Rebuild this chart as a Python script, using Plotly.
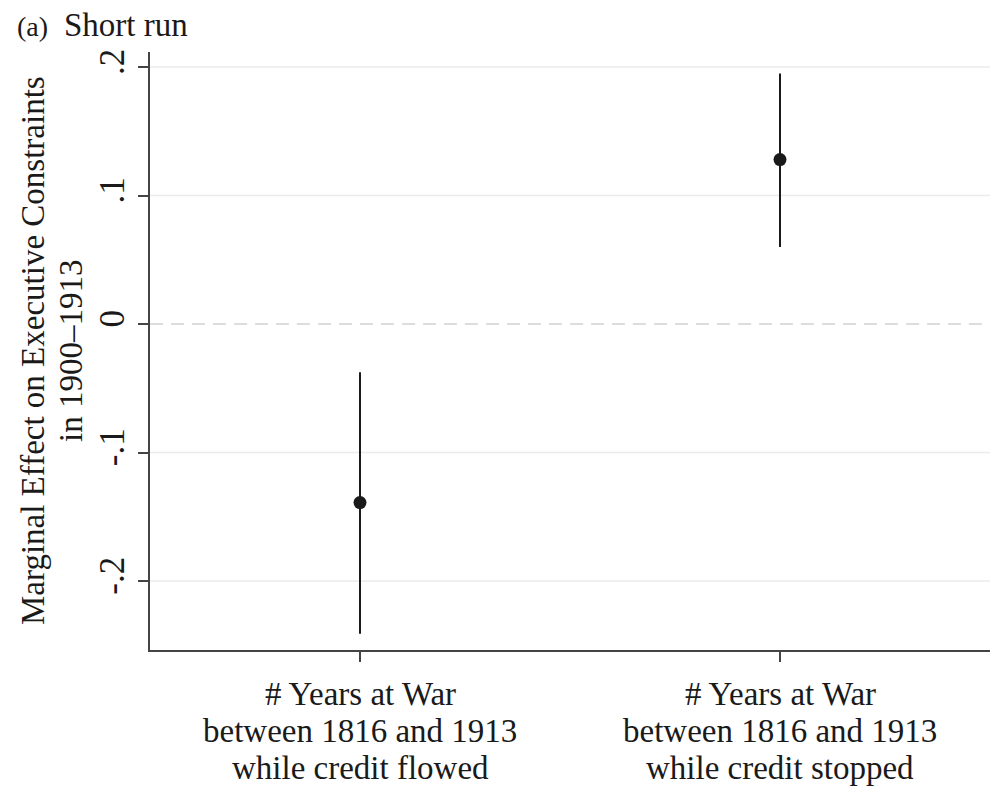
import plotly.graph_objects as go

# ---- data ----
categories = [
    "# Years at War<br>between 1816 and 1913<br>while credit flowed",
    "# Years at War<br>between 1816 and 1913<br>while credit stopped",
]
cat_pos = [1, 2]
estimates = [-0.139, 0.128]
ci_low = [-0.241, 0.060]
ci_high = [-0.0375, 0.195]
y_tickvals = [-0.2, -0.1, 0, 0.1, 0.2]
y_ticktext = ["-.2", "-.1", "0", ".1", ".2"]
y_title_lines = ["Marginal Effect on Executive Constraints", "in 1900\u20131913"]
panel_label = "(a)"
panel_title = "Short run"

FONT = "Liberation Serif, Times New Roman, serif"
INK = "#1a1a1a"
AXIS = "#444444"

OFF = 8  # page body margin
W, H = 1006 - 2 * OFF, 794 - 2 * OFF
L, T = 150 - OFF, 52 - OFF
R = W - (990 - OFF)
B = H - (650 - OFF)
plot_w = W - L - R
plot_h = H - T - B


def px_to_paper_x(px):
    return (px - OFF - L) / plot_w


fig = go.Figure()
fig.add_trace(go.Scatter(
    x=cat_pos, y=estimates, mode="markers",
    marker=dict(size=13, color=INK),
    error_y=dict(type="data", symmetric=False,
                 array=[h - e for h, e in zip(ci_high, estimates)],
                 arrayminus=[e - l for e, l in zip(estimates, ci_low)],
                 thickness=2, width=0, color=INK),
    showlegend=False, hoverinfo="skip",
))

shapes = []
for v in y_tickvals:
    if v == 0:
        shapes.append(dict(type="line", xref="paper", yref="y", x0=0, x1=1, y0=0, y1=0,
                           line=dict(color="#d2d2d2", width=1.5, dash="13px,8px"), layer="below"))
    else:
        shapes.append(dict(type="line", xref="paper", yref="y", x0=0, x1=1, y0=v, y1=v,
                           line=dict(color="#ebebeb", width=1.5), layer="below"))

annotations = []
# x category labels, one annotation per line
line_gap = 37
for xp, lab in zip(cat_pos, categories):
    for i, line in enumerate(lab.split("<br>")):
        annotations.append(dict(x=xp, xref="x", y=0, yref="paper", yanchor="top",
                                yshift=-(24 + i * line_gap), text=line, showarrow=False,
                                font=dict(family=FONT, size=33, color=INK)))
# y title lines (rotated)
for px, line in zip([33, 71], y_title_lines):
    annotations.append(dict(x=px_to_paper_x(px), xref="paper", y=0.5, yref="paper",
                            xanchor="center", yanchor="middle", textangle=-90,
                            text=line, showarrow=False,
                            font=dict(family=FONT, size=33, color=INK)))
# title
annotations.append(dict(x=px_to_paper_x(15), xref="paper", y=1, yref="paper",
                        xanchor="left", yanchor="bottom", yshift=8, text=panel_label,
                        showarrow=False, font=dict(family=FONT, size=28, color=INK)))
annotations.append(dict(x=px_to_paper_x(62), xref="paper", y=1, yref="paper",
                        xanchor="left", yanchor="bottom", yshift=7, text=panel_title,
                        showarrow=False, font=dict(family=FONT, size=33, color=INK)))

fig.update_layout(
    width=W, height=H,
    margin=dict(l=L, r=R, t=T, b=B),
    paper_bgcolor="white", plot_bgcolor="white",
    font=dict(family=FONT, color=INK),
    shapes=shapes, annotations=annotations,
    xaxis=dict(range=[0.5, 2.5], tickvals=cat_pos, ticktext=["", ""],
               showticklabels=False, ticks="outside", ticklen=10, tickwidth=1.5,
               tickcolor=AXIS, showline=True, linecolor=AXIS, linewidth=1.5,
               showgrid=False, zeroline=False, fixedrange=True),
    yaxis=dict(range=[-0.2537, 0.2117], tickvals=y_tickvals, ticktext=y_ticktext,
               tickangle=-90, tickfont=dict(family=FONT, size=35, color=INK),
               ticks="outside", ticklen=10, tickwidth=1.5, tickcolor=AXIS,
               showline=True, linecolor=AXIS, linewidth=1.5,
               showgrid=False, zeroline=False, fixedrange=True),
)

fig.write_html("out.html")
